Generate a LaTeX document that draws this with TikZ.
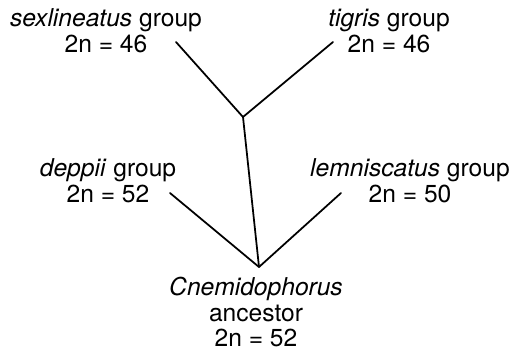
\documentclass[tikz,border=0pt]{standalone}
\usepackage{fontspec}
\setmainfont{TeX Gyre Heros}
\usepackage{tikz}
\usetikzlibrary{positioning}
\tikzstyle{taxon} = [align=center, inner sep=0pt, font=\fontsize{21}{22}\selectfont]
\tikzstyle{branch} = [line width=1.5pt, line cap=round, line join=round]

\begin{document}
\begin{tikzpicture}[x=0.03cm, y=-0.03cm]
    \useasboundingbox (0,0) rectangle (525,350);
    \node(sex)[taxon] at (106,31){\textit{sexlineatus} group\\2n = 46};
    \node(tig)[taxon] at (389,31){\textit{tigris} group\\2n = 46};
    \node(dep)[taxon] at (108,181){\textit{deppii} group\\2n = 52};
    \node(lem)[taxon] at (410,181){\textit{lemniscatus} group\\2n = 50};
    \node(anc)[taxon] at (256,312){\textit{Cnemidophorus}\\ancestor\\2n = 52};

    \coordinate(top) at (243,117);
    \coordinate(root) at (259,267);
    \coordinate(sexend) at (176,42);
    \coordinate(tigend) at (333,42);
    \coordinate(depend) at (170,193);
    \coordinate(lemend) at (341,193);

    \draw[branch](sexend)--(top)--(tigend);
    \draw[branch](top)--(root);
    \draw[branch](depend)--(root)--(lemend);
  \end{tikzpicture}
\end{document}
